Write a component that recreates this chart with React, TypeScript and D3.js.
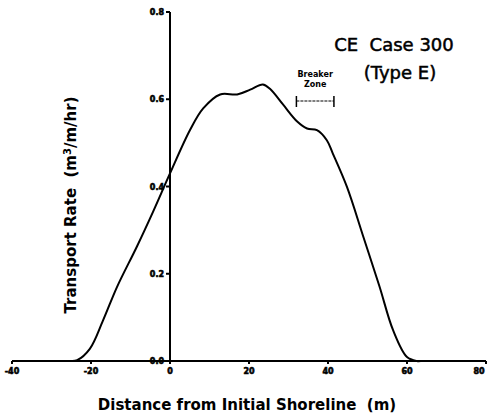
import React from "react";
import * as d3 from "d3";

const distance = [-25, -23.5, -20.3, -17.0, -13.4, -8.4, -4.3, 0, 5.1, 8.4, 12.7, 17.0, 20.3, 23.5, 25.3, 28.6, 32.2, 34.7, 37.2, 39.7, 41.2, 44.8, 48.9, 53.0, 56.5, 60.0, 62.5, 63.5];
const rate = [0, 0.002, 0.028, 0.092, 0.17, 0.262, 0.342, 0.43, 0.53, 0.579, 0.611, 0.611, 0.622, 0.634, 0.624, 0.588, 0.549, 0.533, 0.529, 0.506, 0.476, 0.399, 0.286, 0.172, 0.07, 0.009, 0, 0];
const xTicks = [-40, -20, 0, 20, 40, 60, 80];
const yTicks = [0, 0.2, 0.4, 0.6, 0.8];
const yTickLabels = ["0.0", "0.2", "0.4", "0.6", "0.8"];
const breakerZone = [32, 41.5];

export default function App() {
  const x = d3.scaleLinear().domain([-40, 80]).range([12, 486]);
  const y = d3.scaleLinear().domain([0, 0.8]).range([361, 12]);
  const pts: [number, number][] = distance.map((d, i) => [d, rate[i]]);
  const line = d3
    .line<[number, number]>()
    .x((d) => x(d[0]))
    .y((d) => y(d[1]))
    .curve(d3.curveCatmullRom.alpha(0.5));
  const font = "'DejaVu Sans', 'Liberation Sans', sans-serif";
  const bz0 = x(breakerZone[0]);
  const bz1 = x(breakerZone[1]);
  const bzy = 101;
  const tickStyle = { stroke: "#000", strokeWidth: 0.6 } as React.CSSProperties;
  return (
    <svg
      width={490}
      height={420}
      style={{ position: "absolute", left: 0, top: 0, background: "#fff" }}
    >
      {/* x axis */}
      <line x1={x(-40)} x2={x(80)} y1={y(0)} y2={y(0)} stroke="#000" strokeWidth={2} />
      {xTicks.map((t) => (
        <g key={"xt" + t}>
          <line x1={x(t)} x2={x(t)} y1={y(0)} y2={y(0) + 3} stroke="#000" strokeWidth={2} />
          <text
            x={Math.min(x(t), 479)}
            y={y(0) + 13}
            textAnchor="middle"
            fontFamily={font}
            fontWeight="bold"
            fontSize={8}
            style={tickStyle}
          >
            {t}
          </text>
        </g>
      ))}
      {/* y axis */}
      <line x1={x(0)} x2={x(0)} y1={y(0.8)} y2={y(0)} stroke="#000" strokeWidth={2} />
      {yTicks.map((t, i) => (
        <g key={"yt" + t}>
          <line x1={x(0) - 4} x2={x(0)} y1={y(t)} y2={y(t)} stroke="#000" strokeWidth={2} />
          <text
            x={x(0) - 6}
            y={y(t) + 3}
            textAnchor="end"
            fontFamily={font}
            fontWeight="bold"
            fontSize={8}
            style={tickStyle}
          >
            {yTickLabels[i]}
          </text>
        </g>
      ))}
      {/* curve */}
      <path d={line(pts) || ""} fill="none" stroke="#000" strokeWidth={2} />
      {/* axis titles */}
      <text
        x={247}
        y={410}
        textAnchor="middle"
        fontFamily={font}
        fontSize={15}
        fontWeight="bold"
        style={{ whiteSpace: "pre" }}
      >
        Distance from Initial Shoreline  (m)
      </text>
      <text
        transform={`translate(76,205) rotate(-90)`}
        textAnchor="middle"
        fontFamily={font}
        fontSize={15}
        fontWeight="bold"
        style={{ whiteSpace: "pre" }}
      >
        {"Transport Rate  (m"}
        <tspan baselineShift="super" fontSize={10}>3</tspan>
        {"/m/hr)"}
      </text>
      {/* title */}
      <text x={394} y={51} textAnchor="middle" fontFamily={font} fontSize={18} style={{ whiteSpace: "pre", stroke: "#000", strokeWidth: 0.5 }}>
        {"CE  Case 300"}
      </text>
      <text x={400} y={79} textAnchor="middle" fontFamily={font} fontSize={18} style={{ stroke: "#000", strokeWidth: 0.5 }}>
        (Type E)
      </text>
      {/* breaker zone */}
      <text x={(bz0 + bz1) / 2} y={77} textAnchor="middle" fontFamily={font} fontWeight="bold" fontSize={8}>
        Breaker
      </text>
      <text x={(bz0 + bz1) / 2} y={87} textAnchor="middle" fontFamily={font} fontWeight="bold" fontSize={8}>
        Zone
      </text>
      <line x1={bz0} x2={bz1} y1={bzy} y2={bzy} stroke="#000" strokeWidth={1.2} strokeDasharray="3,1" />
      <line x1={bz0} x2={bz0} y1={bzy - 5} y2={bzy + 6} stroke="#000" strokeWidth={1.5} />
      <line x1={bz1} x2={bz1} y1={bzy - 5} y2={bzy + 6} stroke="#000" strokeWidth={1.5} />
    </svg>
  );
}
